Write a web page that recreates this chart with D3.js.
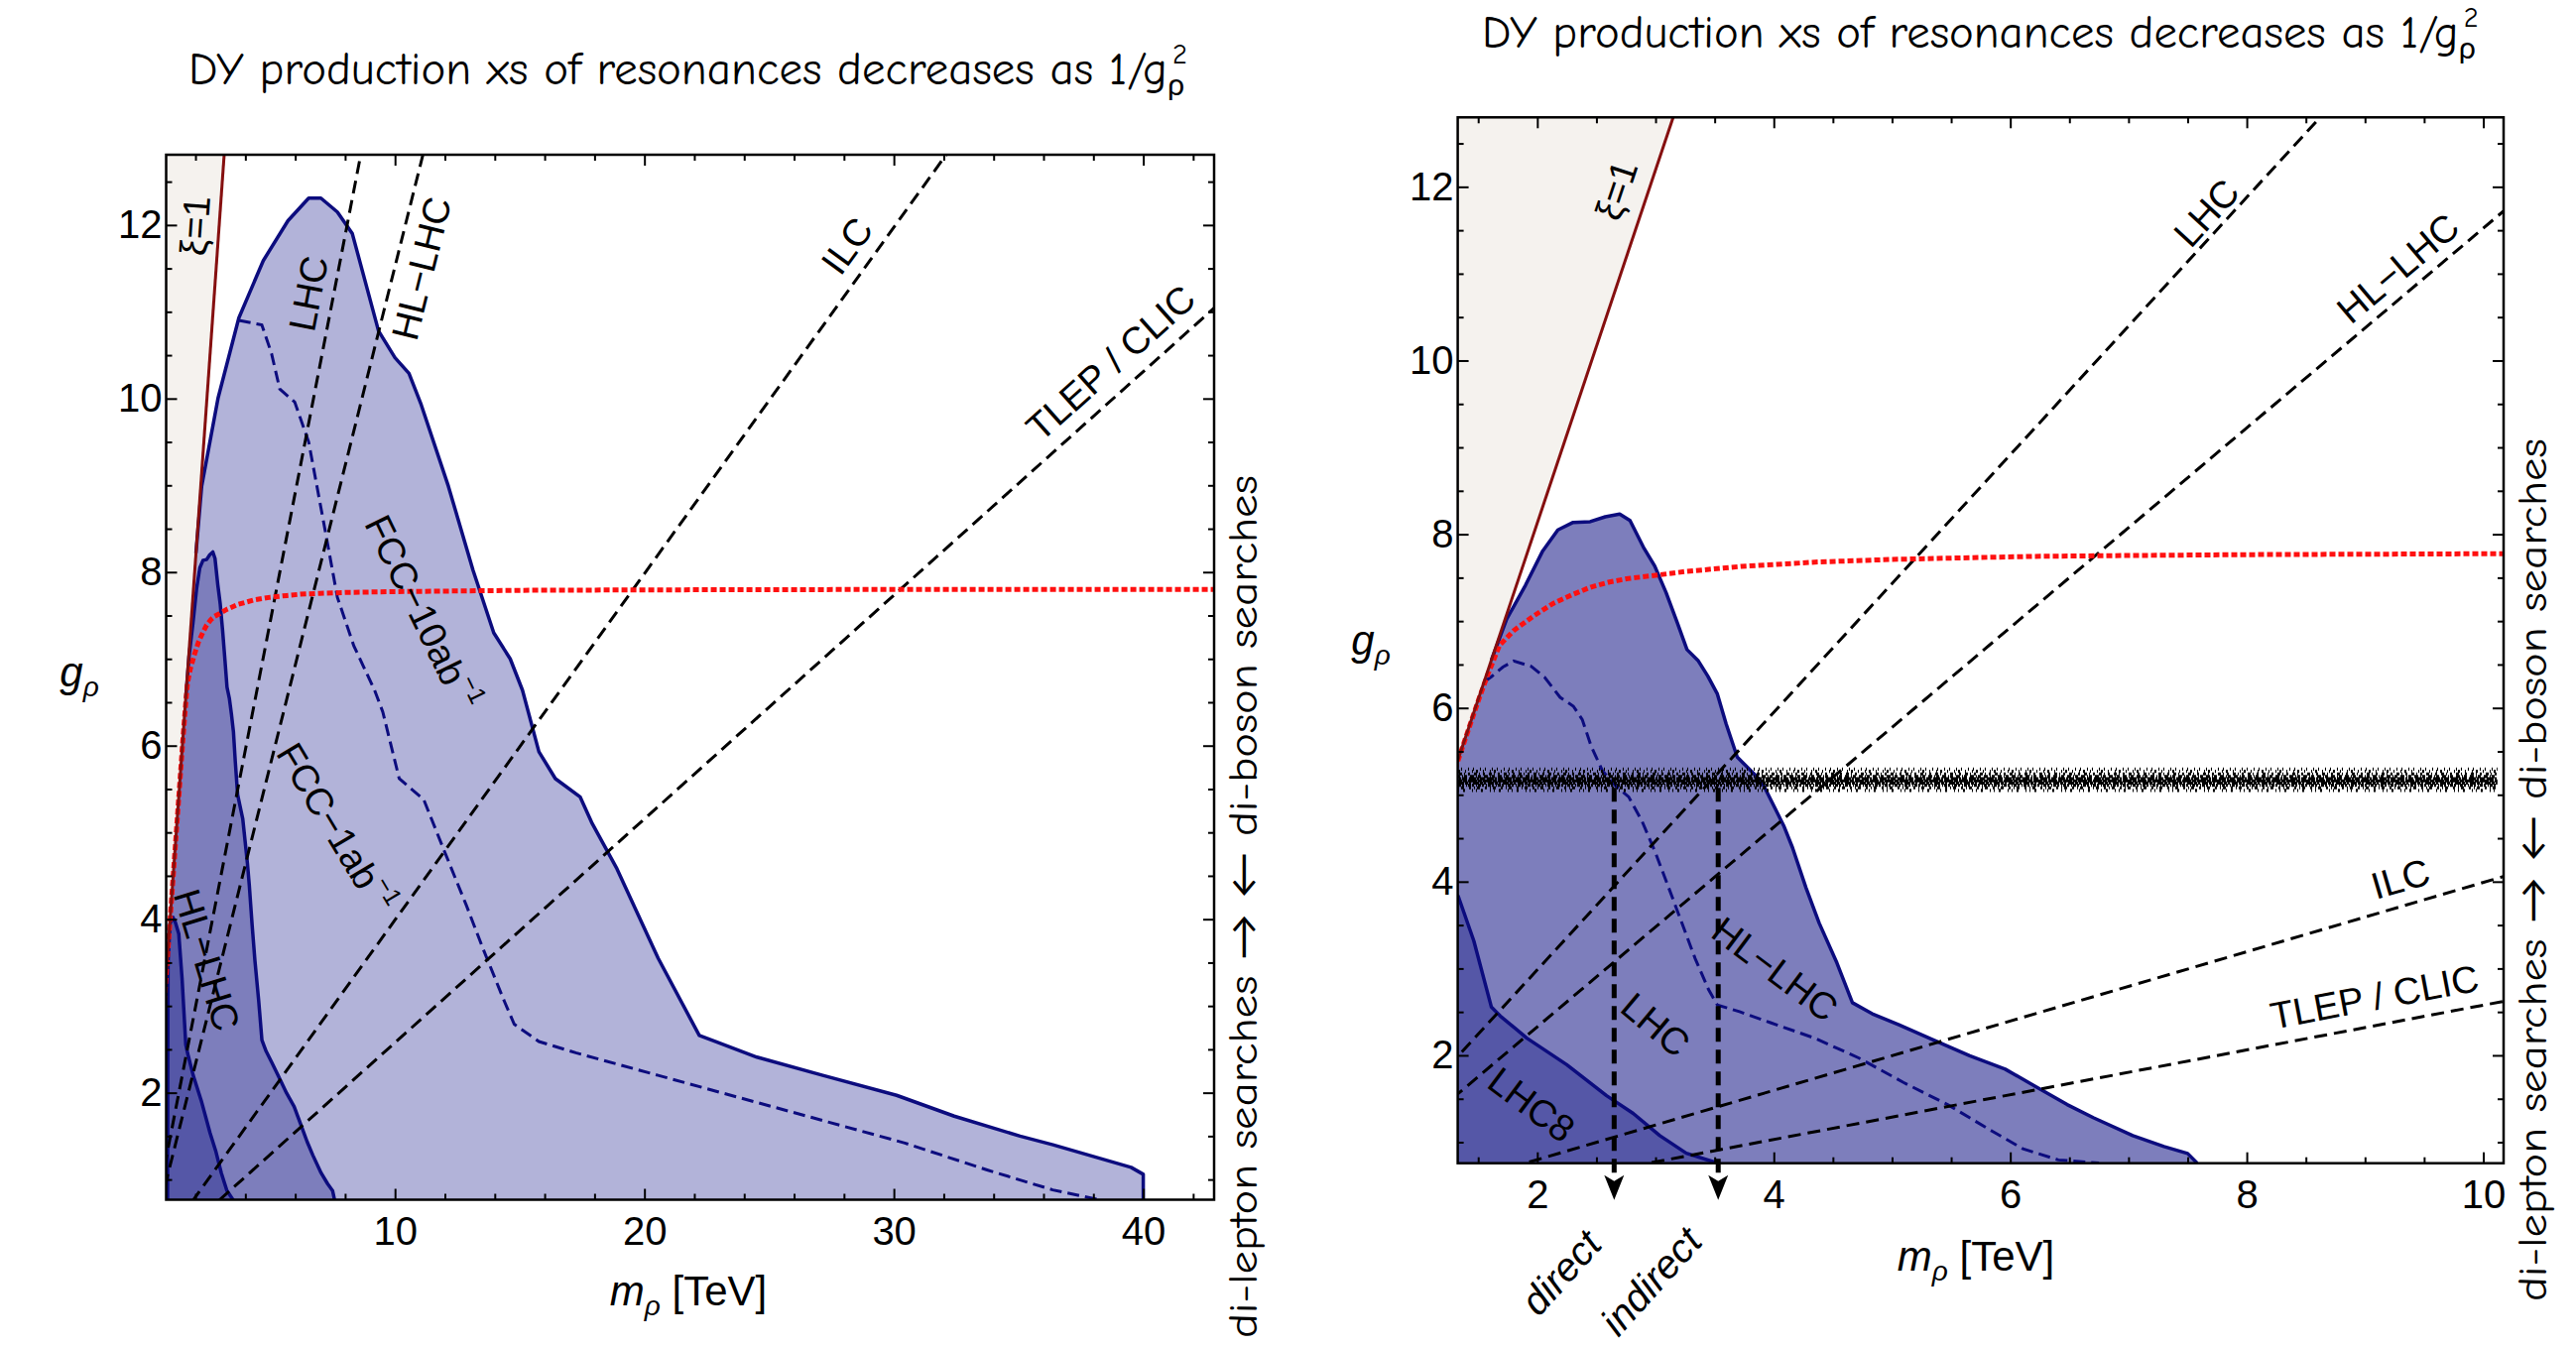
<!DOCTYPE html>
<html><head><meta charset="utf-8">
<script src="https://cdn.jsdelivr.net/npm/d3@7"></script>
<style>body{margin:0;background:#fff}svg{display:block}</style>
</head><body>
<svg id="c" width="2597" height="1359"></svg>
<script>
// ---------------- DATA (m_rho [TeV], g_rho) ----------------
const xiLine = [[0,0],[3.4,13.82]];                 // xi = 1
const lineLHC   = [[0,0.02],[45,66.73]];
const lineHLLHC = [[0,0.03],[45,51.75]];
const lineILC   = [[0,0],[45,17.96]];
const lineTLEP  = [[0,0],[45,11.6]];

const redCurve = [[0.75,3.05],[1.0,4.06],[1.2,4.87],[1.4,5.68],[1.5,6.08],[1.58,6.38],[1.68,6.72],[1.8,6.89],
 [1.97,7.06],[2.13,7.2],[2.29,7.3],[2.45,7.39],[2.61,7.45],[2.77,7.49],[2.96,7.52],[3.25,7.57],[3.73,7.63],
 [4.37,7.68],[5.0,7.71],[5.66,7.73],[6.2,7.745],[7,7.755],[8,7.765],[10,7.775],[15,7.79],[20,7.795],[30,7.8],[43,7.8]];

const fcc10 = [[2.02,8.22],[2.25,8.99],[2.91,10.01],[3.74,10.93],[4.72,11.59],[5.71,12.05],[6.54,12.31],[7.03,12.31],
 [7.69,12.15],[8.29,11.9],[9.34,10.78],[10.0,10.47],[10.56,10.29],[11.05,9.93],[12.14,8.99],[13.13,8.02],[13.96,7.30],
 [14.62,7.0],[15.11,6.64],[15.77,5.93],[16.43,5.62],[17.42,5.41],[17.91,5.10],[18.9,4.58],[20.55,3.55],[22.2,2.66],
 [22.86,2.59],[24.51,2.41],[27.15,2.2],[30.11,1.97],[32.42,1.73],[35.06,1.5],[36.38,1.40],[39.51,1.14],[40.0,1.06],[40.0,0.76]];

const fcc1 = [[3.74,10.9],[4.66,10.85],[5.05,10.52],[5.38,10.11],[5.98,9.96],[6.54,9.50],[7.2,8.48],[7.69,7.71],
 [8.35,7.15],[9.18,6.64],[9.51,6.39],[10.17,5.62],[11.15,5.38],[12.0,4.77],[12.86,4.16],[13.53,3.66],[14.39,3.05],
 [14.78,2.79],[15.77,2.59],[17.25,2.46],[20.55,2.20],[23.85,1.94],[27.15,1.68],[30.44,1.42],[33.74,1.11],[36.37,0.88],[38.35,0.76]];

const hlLHC = [[1.612,6.553],[1.741,7.022],[1.901,7.415],[2.046,7.808],[2.174,8.049],[2.303,8.136],[2.447,8.145],
 [2.575,8.201],[2.697,8.232],[2.784,8.158],[2.897,7.852],[2.993,7.634],[3.089,7.328],[3.185,6.978],[3.266,6.672],
 [3.362,6.541],[3.442,6.366],[3.523,6.16],[3.597,5.817],[3.691,5.434],[3.785,5.307],[3.897,5.154],[4.009,4.848],
 [4.084,4.644],[4.159,4.389],[4.272,3.931],[4.384,3.523],[4.534,3.064],[4.665,2.606],[4.833,2.478],[5.058,2.351],
 [5.358,2.172],[5.657,1.994],[5.957,1.841],[6.219,1.637],[6.481,1.433],[6.706,1.28],[7.036,1.076],[7.3,0.95],
 [7.5,0.87],[7.58,0.76]];

const lhcDashed = [[1.55,6.3],[1.612,6.36],[1.709,6.47],[1.80,6.54],[1.949,6.479],[2.062,6.352],[2.193,6.122],
 [2.305,6.02],[2.38,5.867],[2.455,5.562],[2.549,5.281],[2.661,5.103],[2.773,4.976],[2.886,4.695],[2.998,4.338],
 [3.111,3.931],[3.223,3.523],[3.335,3.115],[3.448,2.758],[3.523,2.58],[3.71,2.503],[3.972,2.376],[4.346,2.198],
 [4.721,1.968],[5.096,1.688],[5.47,1.433],[5.845,1.128],[6.107,0.924],[6.406,0.796],[6.75,0.76]];

const lhc8 = [[0.88,0.76],[0.9,3.5],[0.98,3.95],[1.1,4.02],[1.2,3.96],[1.332,3.83],[1.463,3.319],[1.612,2.555],
 [1.687,2.453],[1.912,2.198],[2.249,1.892],[2.586,1.535],[2.811,1.331],[3.036,1.076],[3.26,0.873],[3.523,0.76]];

const bandRows = [5.05,5.08,5.11,5.135,5.16,5.185,5.21,5.24,5.27,5.295];
const bandRange = [1.33,10.12];
const arrowsM = [2.65,3.53];
const arrowTopG = 5.08;

const xMajorL = [10,20,30,40];
const xMajorR = [2,4,6,8,10];
const yMajor = [2,4,6,8,10,12];

const labelsL = [
 {t:"ξ=1",m:1.99,g:11.99,a:-86},
 {t:"LHC",m:6.54,g:11.21,a:-79},
 {t:"HL−LHC",m:11.07,g:11.5,a:-76},
 {t:"ILC",m:28.13,g:11.76,a:-54},
 {t:"TLEP / CLIC",m:38.7,g:10.41,a:-41.8},
 {t:"FCC−10ab",sup:"−1",m:11.07,g:7.53,a:64},
 {t:"FCC−1ab",sup:"−1",m:7.61,g:5.05,a:59},
 {t:"HL−LHC",m:2.45,g:3.53,a:73}
];
const labelsR = [
 {t:"ξ=1",m:2.67,g:11.96,a:-71.5},
 {t:"LHC",m:7.66,g:11.7,a:-47.4},
 {t:"HL−LHC",m:9.28,g:11.06,a:-40.3},
 {t:"ILC",m:9.30,g:4.03,a:-16.3},
 {t:"TLEP / CLIC",m:9.08,g:2.67,a:-10.7},
 {t:"HL−LHC",m:4.01,g:2.99,a:37},
 {t:"LHC",m:3.0,g:2.35,a:40},
 {t:"LHC8",m:1.95,g:1.43,a:37},
 {t:"direct",m:2.2,g:-0.5,a:-48,it:true,fs:40},
 {t:"indirect",m:2.96,g:-0.6,a:-48,it:true,fs:40}
];

// ---------------- STYLE ----------------
const C = {beige:"#f5f2ee", light:"#b2b3d9", mid:"#7d7ebc", dark:"#5557a7", navy:"#0c0c7e", xi:"#850f0f", red:"#ff1010"};
const tickFont = "'Liberation Sans', Arial, sans-serif";
const comic = "'Comic Sans MS','Comic Neue',Lato,'Open Sans',sans-serif";
const TICK_FS = 40;

const svg = d3.select("#c");

function panel(id, x, y, opt){
  const [x0,x1] = x.range(), [yb,yt] = y.range();
  svg.append("clipPath").attr("id",id).append("rect")
    .attr("x",x0).attr("y",yt).attr("width",x1-x0).attr("height",yb-yt);
  const cg = svg.append("g").attr("clip-path",`url(#${id})`);
  const line = d3.line().x(d=>x(d[0])).y(d=>y(d[1]));
  const top = xiLine[1][1];
  cg.append("path").attr("d", line([xiLine[0], xiLine[1], [0,top]])+"Z").attr("fill",C.beige);

  const region = (b, start, fill)=>{
    const last = b[b.length-1][0];
    cg.append("path").attr("d", line([start, ...b, [last,0]])+"Z").attr("fill",fill);
    cg.append("path").attr("d", line(b)).attr("fill","none").attr("stroke",C.navy).attr("stroke-width",3.5).attr("stroke-linejoin","round");
  };
  const dashed = (b, col, w, da)=> cg.append("path").attr("d",line(b)).attr("fill","none")
     .attr("stroke",col).attr("stroke-width",w).attr("stroke-dasharray",da);

  if(opt.fcc){ region(fcc10,[0,0],C.light); dashed(fcc1,C.navy,3,"12,6"); }
  region(hlLHC,[0,0],C.mid);
  if(opt.lhc){ dashed(lhcDashed,C.navy,3,"12,6"); }
  region(lhc8,[lhc8[0][0],0],C.dark);

  [lineLHC,lineHLLHC,lineILC,lineTLEP].forEach(l=>dashed(l,"#000",3,"13,7"));
  dashed(redCurve,C.red,5,"6,3");
  cg.append("path").attr("d",line(xiLine)).attr("stroke",C.xi).attr("stroke-width",3).attr("fill","none");

  if(opt.band){
    const pats = ["1 4 2 7 1 3","2 3 1 2 3 5","3 1 2 2 1 1","6 1 3 1 2 2","9 1 4 1","7 1 2 1 5 2","4 2 1 1 3 3","2 4 3 2 1 3","1 3 2 5 1 6","1 6 1 4"];
    bandRows.forEach((r,i)=>{
      cg.append("line").attr("x1",x(bandRange[0])).attr("x2",x(bandRange[1]))
        .attr("y1",y(r)).attr("y2",y(r)).attr("stroke","#000").attr("stroke-width",3.2)
        .attr("stroke-dasharray",pats[i]).attr("stroke-dashoffset",i*5);
    });
    arrowsM.forEach(m=>{
      svg.append("line").attr("x1",x(m)).attr("x2",x(m)).attr("y1",y(arrowTopG)).attr("y2",yb+14)
        .attr("stroke","#000").attr("stroke-width",5).attr("stroke-dasharray","14,8");
      svg.append("path").attr("d",`M${x(m)-10},${yb+12} L${x(m)},${yb+18} L${x(m)+10},${yb+12} L${x(m)},${yb+37} Z`).attr("fill","#000");
    });
  }

  // labels
  opt.labels.forEach(L=>{
    const t = svg.append("text").attr("transform",`translate(${x(L.m)},${y(L.g)}) rotate(${L.a})`)
      .attr("text-anchor","middle").attr("dominant-baseline","central")
      .attr("font-family",tickFont).attr("font-size",L.fs||38).attr("fill","#000")
      .attr("font-style",L.it?"italic":"normal");
    t.append("tspan").text(L.t);
    if(L.sup) t.append("tspan").attr("font-size",25).attr("dy",-14).text(L.sup);
  });

  // axes
  const mk = (axis, tx, ty)=>{
    const g = svg.append("g").attr("transform",`translate(${tx},${ty})`).call(axis);
    g.select(".domain").remove();
    g.selectAll("line").attr("stroke","#000").attr("stroke-width",2);
    g.selectAll("text").attr("font-family",tickFont).attr("font-size",TICK_FS).attr("fill","#000");
  };
  const [dx0,dx1] = x.domain(), [dy0,dy1] = y.domain();
  const xMin = d3.range(opt.xMinorStart, dx1, opt.xMinorStep).filter(v=>v>dx0 && !opt.xMajor.some(M=>Math.abs(M-v)<1e-6));
  const yMin = d3.range(1, dy1, 0.5).filter(v=>v>dy0 && !yMajor.some(M=>Math.abs(M-v)<1e-6));
  mk(d3.axisBottom(x).tickValues(opt.xMajor).tickSize(-11).tickPadding(17).tickFormat(d3.format("d")),0,yb);
  mk(d3.axisBottom(x).tickValues(xMin).tickSize(-6).tickFormat(""),0,yb);
  mk(d3.axisTop(x).tickValues(opt.xMajor).tickSize(-11).tickFormat(""),0,yt);
  mk(d3.axisTop(x).tickValues(xMin).tickSize(-6).tickFormat(""),0,yt);
  mk(d3.axisLeft(y).tickValues(yMajor).tickSize(-11).tickPadding(4).tickFormat(d3.format("d")),x0,0);
  mk(d3.axisLeft(y).tickValues(yMin).tickSize(-6).tickFormat(""),x0,0);
  mk(d3.axisRight(y).tickValues(yMajor).tickSize(-11).tickFormat(""),x1,0);
  mk(d3.axisRight(y).tickValues(yMin).tickSize(-6).tickFormat(""),x1,0);
  svg.append("rect").attr("x",x0).attr("y",yt).attr("width",x1-x0).attr("height",yb-yt)
    .attr("fill","none").attr("stroke","#000").attr("stroke-width",2.5);

  // axis titles
  const xt = svg.append("text").attr("x",opt.xlab[0]).attr("y",opt.xlab[1]).attr("text-anchor","middle")
    .attr("font-family",tickFont).attr("font-size",42).attr("fill","#000");
  xt.append("tspan").attr("font-style","italic").text("m");
  xt.append("tspan").attr("font-style","italic").attr("font-size",28).attr("dy",10).text("ρ");
  xt.append("tspan").attr("dy",-10).text(" [TeV]");
  const yt2 = svg.append("text").attr("x",opt.ylab[0]).attr("y",opt.ylab[1]).attr("text-anchor","middle")
    .attr("font-family",tickFont).attr("font-size",42).attr("fill","#000");
  yt2.append("tspan").attr("font-style","italic").text("g");
  yt2.append("tspan").attr("font-style","italic").attr("font-size",28).attr("dy",10).text("ρ");

  // title
  const tt = svg.append("text").attr("x",0).attr("y",opt.title[2]).attr("font-family",comic)
    .attr("font-size",46).attr("fill","#000");
  tt.append("tspan").text("DY production xs of resonances decreases as 1/g");
  tt.append("tspan").attr("font-size",30).attr("dy",11).text("ρ");
  tt.append("tspan").attr("font-size",28).attr("dx",-12).attr("dy",-32).text("2");
  const bb = tt.node().getBBox();
  const s = (opt.title[1]-opt.title[0])/bb.width;
  tt.attr("transform",`translate(${opt.title[0]},0) scale(${s},1) translate(${-bb.x},0)`);

  // side text
  svg.append("text").attr("transform",`translate(${opt.side[0]},${opt.side[1]}) rotate(-90)`)
    .attr("text-anchor","middle").attr("font-family",comic).attr("font-size",40).attr("fill","#000")
    .attr("textLength",870).attr("lengthAdjust","spacingAndGlyphs")
    .text("di-lepton searches →  ←  di-boson searches");
}

const xL = d3.scaleLinear([0.825,42.84],[167.5,1224]);
const yL = d3.scaleLinear([0.767,12.81],[1209.5,156]);
const xR = d3.scaleLinear([1.327,10.172],[1469.6,2524]);
const yR = d3.scaleLinear([0.758,12.80],[1172.7,118.3]);

panel("clipL", xL, yL, {fcc:true, lhc:false, band:false, labels:labelsL,
  xMajor:xMajorL, xMinorStart:2, xMinorStep:2, xlab:[694,1316], ylab:[80,692],
  title:[190,1197,85], side:[1267,914]});
panel("clipR", xR, yR, {fcc:false, lhc:true, band:true, labels:labelsR,
  xMajor:xMajorR, xMinorStart:1.5, xMinorStep:0.5, xlab:[1992,1281], ylab:[1382,660],
  title:[1494,2499,48], side:[2567,877]});
</script>
</body></html>
